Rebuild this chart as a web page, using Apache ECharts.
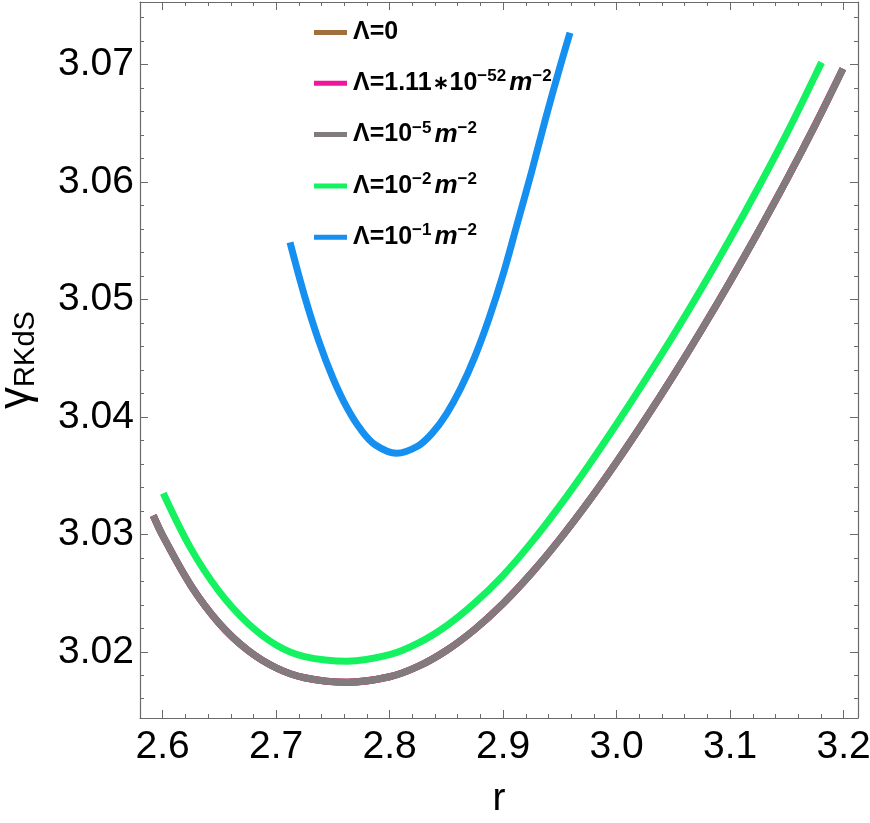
<!DOCTYPE html>
<html><head><meta charset="utf-8">
<script src="https://cdn.jsdelivr.net/npm/echarts@6/dist/echarts.min.js"></script>
<style>html,body{margin:0;padding:0;background:#fff}#c{width:870px;height:823px}</style>
</head><body><div id="c"></div>
<script>
// Series names (legend order)
const names = ['Λ=0', 'Λ=1.11*10^-52 m^-2', 'Λ=10^-5 m^-2', 'Λ=10^-2 m^-2', 'Λ=10^-1 m^-2'];
const colors = ['#a0703c', '#f0169b', '#817b7d', '#14f260', '#1590f0'];

// Λ=0, Λ=1.11e-52 and Λ=1e-5 coincide on the picture
const rBase = [2.5917, 2.60, 2.625, 2.65, 2.675, 2.70, 2.725, 2.7625, 2.80, 2.825, 2.85, 2.875, 2.90, 2.925, 2.95, 2.975, 3.00, 3.025, 3.05, 3.075, 3.10, 3.125, 3.15, 3.175, 3.1994];
const yBase = [3.0316, 3.02989, 3.02561, 3.0224, 3.02013, 3.01863, 3.01779, 3.0174, 3.01787, 3.01875, 3.02011, 3.02191, 3.02411, 3.02669, 3.02959, 3.03276, 3.03616, 3.03975, 3.04351, 3.04744, 3.05153, 3.05578, 3.06021, 3.06486, 3.06964];

// Λ=1e-2
const rGreen = [2.6005, 2.625, 2.65, 2.675, 2.70, 2.725, 2.7625, 2.80, 2.825, 2.85, 2.875, 2.90, 2.925, 2.95, 2.975, 3.00, 3.025, 3.05, 3.075, 3.10, 3.125, 3.15, 3.175, 3.1806];
const yGreen = [3.0335, 3.02876, 3.0251, 3.02243, 3.02058, 3.01959, 3.0192, 3.01975, 3.02073, 3.02221, 3.02416, 3.02651, 3.02931, 3.03244, 3.03582, 3.03939, 3.0431, 3.04694, 3.05096, 3.05516, 3.05955, 3.06414, 3.06906, 3.07018];

// Λ=1e-1
const rBlue = [2.7122, 2.725, 2.7375, 2.75, 2.7625, 2.775, 2.7875, 2.806, 2.825, 2.8375, 2.85, 2.8625, 2.875, 2.8875, 2.90, 2.9125, 2.925, 2.9375, 2.95, 2.9589];
const yBlue = [3.05485, 3.05029, 3.04647, 3.0433, 3.04076, 3.03886, 3.0376, 3.0369, 3.03752, 3.03861, 3.04024, 3.04241, 3.04511, 3.04836, 3.05214, 3.05647, 3.06083, 3.06543, 3.06977, 3.0727];

const xMin = 2.58, xMax = 3.2127, yMin = 3.01436, yMax = 3.07532;

const legendRich = {
  'Λ=0': '{p| }{n|Λ=0}',
  'Λ=1.11*10^-52 m^-2': '{p| }{n|Λ=1.11}{a|∗}{n|10}{s|−52}{m|m}{s|−2}',
  'Λ=10^-5 m^-2': '{p| }{n|Λ=10}{s|−5}{m|m}{s|−2}',
  'Λ=10^-2 m^-2': '{p| }{n|Λ=10}{s|−2}{m|m}{s|−2}',
  'Λ=10^-1 m^-2': '{p| }{n|Λ=10}{s|−1}{m|m}{s|−2}'
};

const FONT = 'Liberation Sans, Arial, Helvetica, sans-serif';
const pairs = (xs, ys) => xs.map((x, i) => [x, ys[i]]);
const dataSets = [pairs(rBase, yBase), pairs(rBase, yBase), pairs(rBase, yBase), pairs(rGreen, yGreen), pairs(rBlue, yBlue)];

const axisCol = '#6a6a6a';
function frameAxis(extra) {
  return Object.assign({
    type: 'value',
    axisLine: { show: true, onZero: false, lineStyle: { color: axisCol, width: 1.2 } },
    axisTick: { show: true, inside: true, length: 8, lineStyle: { color: axisCol, width: 1 } },
    minorTick: { show: true, splitNumber: 5, length: 4, lineStyle: { color: axisCol, width: 1 } },
    splitLine: { show: false },
    minorSplitLine: { show: false }
  }, extra);
}

const chart = echarts.init(document.getElementById('c'), null, { renderer: 'canvas' });
chart.setOption({
  animation: false,
  backgroundColor: '#fff',
  grid: { left: 140, right: 12, top: 2, bottom: 105, containLabel: false, outerBoundsMode: 'none' },
  legend: {
    data: names,
    orient: 'vertical',
    left: 309, top: 15,
    itemWidth: 33, itemHeight: 5, itemGap: 23.3,
    icon: 'rect',
    formatter: n => legendRich[n],
    textStyle: {
      rich: {
        p: { fontFamily: FONT, fontSize: 10, width: 1, lineHeight: 30 },
        n: { fontFamily: FONT, fontSize: 25, fontWeight: 'bold', color: '#000', lineHeight: 30 },
        a: { fontFamily: FONT, fontSize: 19, fontWeight: 'bold', color: '#000', lineHeight: 30, padding: [0, 1, 0, 1] },
        s: { fontFamily: FONT, fontSize: 17, fontWeight: 'bold', color: '#000', lineHeight: 16, verticalAlign: 'top' },
        m: { fontFamily: FONT, fontSize: 26, fontWeight: 'bold', fontStyle: 'italic', color: '#000', lineHeight: 30, padding: [0, 0, 0, 3] }
      }
    }
  },
  xAxis: [
    frameAxis({
      min: xMin, max: xMax, position: 'bottom',
      axisLabel: { fontFamily: FONT, fontSize: 39, color: '#000', margin: 10,
        formatter: v => Math.abs(v * 10 - Math.round(v * 10)) < 1e-6 ? v.toFixed(1) : '' },
      name: 'r', nameLocation: 'middle', nameGap: 62,
      nameTextStyle: { fontFamily: FONT, fontSize: 39, color: '#000' }
    }),
    frameAxis({ min: xMin, max: xMax, position: 'top', axisLabel: { show: false } })
  ],
  yAxis: [
    frameAxis({
      min: yMin, max: yMax, position: 'left',
      axisLabel: { fontFamily: FONT, fontSize: 39, color: '#000', margin: 6,
        formatter: v => Math.abs(v * 100 - Math.round(v * 100)) < 1e-6 ? v.toFixed(2) : '' },
      name: '{g|γ}{r|RKdS}', nameLocation: 'middle', nameGap: 100,
      nameTextStyle: { rich: {
        g: { fontFamily: FONT, fontSize: 44, color: '#000', lineHeight: 46 },
        r: { fontFamily: FONT, fontSize: 29, color: '#000', lineHeight: 46, verticalAlign: 'bottom', padding: [12, 0, 0, 0] }
      } }
    }),
    frameAxis({ min: yMin, max: yMax, position: 'right', axisLabel: { show: false } })
  ],
  series: names.map((n, i) => ({
    name: n, type: 'line', xAxisIndex: 0, yAxisIndex: 0,
    data: dataSets[i], smooth: 0.35, showSymbol: false, symbol: 'none',
    lineStyle: { color: colors[i], width: 7, cap: 'butt', join: 'round' },
    itemStyle: { color: colors[i] },
    z: 2 + i
  }))
});
</script></body></html>
